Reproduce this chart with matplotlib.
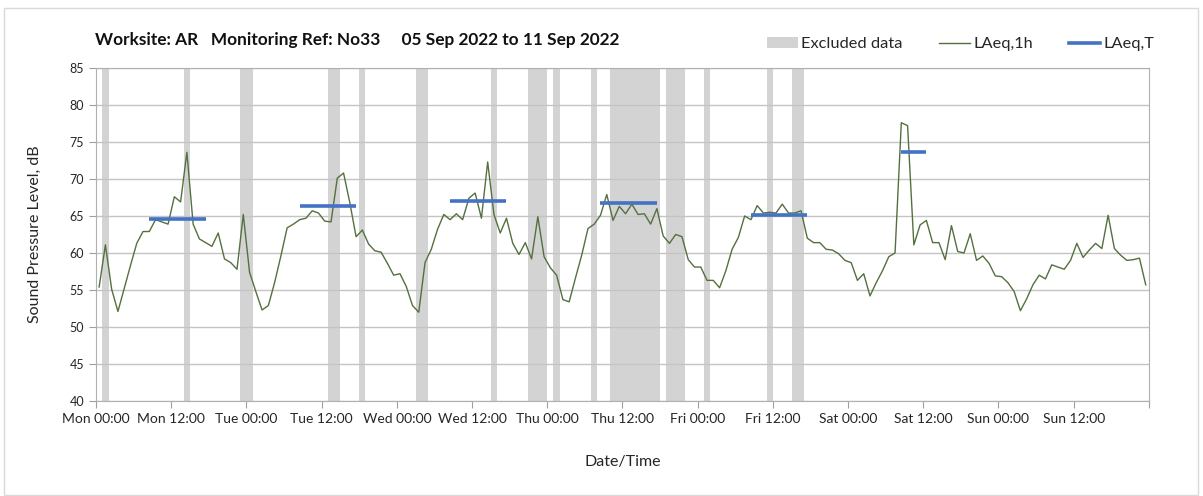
import matplotlib
matplotlib.use('Agg')
import matplotlib.pyplot as plt
from matplotlib.patches import Rectangle, Patch
from matplotlib.lines import Line2D

# Datos: LAeq,1h (una lectura por hora, desde el lunes 00:00)
laeq_1h = [
    55.4, 61.1, 55.1, 52.1, 55.2, 58.3, 61.3, 62.9, 62.9, 64.5, 64.2, 63.9,
    67.6, 66.9, 73.6, 63.9, 61.9, 61.4, 60.9, 62.7, 59.2, 58.7, 57.8, 65.2,
    57.4, 54.8, 52.3, 52.9, 56.0, 59.6, 63.4, 63.9, 64.5, 64.7, 65.7, 65.4,
    64.3, 64.2, 70.1, 70.8, 66.8, 62.2, 63.1, 61.2, 60.3, 60.1, 58.6, 57.0,
    57.2, 55.5, 52.9, 52.0, 58.7, 60.5, 63.2, 65.2, 64.5, 65.3, 64.5, 67.4,
    68.1, 64.7, 72.3, 65.2, 62.7, 64.7, 61.3, 59.8, 61.4, 59.2, 64.9, 59.5,
    58.0, 57.0, 53.7, 53.4, 56.6, 59.7, 63.3, 63.9, 65.1, 67.9, 64.4, 66.3,
    65.3, 66.6, 65.2, 65.3, 63.9, 66.0, 62.3, 61.3, 62.5, 62.2, 59.1, 58.1,
    58.1, 56.3, 56.3, 55.3, 57.6, 60.5, 62.1, 65.0, 64.5, 66.4, 65.4, 65.5,
    65.4, 66.6, 65.4, 65.4, 65.7, 62.0, 61.4, 61.4, 60.5, 60.4, 59.9, 59.0,
    58.7, 56.3, 57.2, 54.2, 56.0, 57.6, 59.5, 60.0, 77.6, 77.2, 61.1, 63.8,
    64.4, 61.4, 61.4, 59.1, 63.7, 60.2, 60.0, 62.6, 59.0, 59.6, 58.6, 56.9,
    56.8, 56.0, 54.8, 52.2, 53.8, 55.7, 57.0, 56.5, 58.4, 58.1, 57.8, 59.0,
    61.3, 59.4, 60.4, 61.3, 60.6, 65.1, 60.6, 59.7, 59.0, 59.1, 59.3, 55.7,
]
horas = [h + 0.5 for h in range(len(laeq_1h))]

# Periodos excluidos (horas desde el lunes 00:00)
excl_inicio = [1, 14, 23, 37, 42, 51, 63, 69, 73, 79, 82, 91, 97, 107, 111]
excl_fin = [2, 15, 25, 39, 43, 53, 64, 72, 74, 80, 90, 94, 98, 108, 113]

# LAeq,T por periodo diurno
laeq_t = [64.6, 66.3, 67.0, 66.8, 65.2, 73.6]
t_inicio = [8.5, 32.5, 56.5, 80.5, 104.5, 128.5]
t_fin = [17.5, 41.5, 65.5, 89.5, 113.5, 132.5]

# Etiquetas del eje x
dias = ['Mon', 'Tue', 'Wed', 'Thu', 'Fri', 'Sat', 'Sun']
etiquetas_x = []
for d in dias:
    etiquetas_x += [d + ' 00:00', d + ' 12:00']
etiquetas_x.append('')

plt.rcParams['font.family'] = ['Lato', 'DejaVu Sans']

fig = plt.figure(figsize=(12.03, 4.96), dpi=100)
ax = fig.add_axes([0.0798, 0.1915, 0.8752, 0.6715])

# Zonas excluidas
for a, b in zip(excl_inicio, excl_fin):
    ax.axvspan(a, b, color='#d3d3d3', lw=0, zorder=1)

# Series
ax.plot(horas, laeq_1h, color='#55703f', lw=1.0, zorder=3)
ax.hlines(laeq_t, t_inicio, t_fin, color='#4472c4', lw=2.6, zorder=4)

# Ejes
ax.set_xlim(0, 168)
ax.set_ylim(40, 85)
ax.set_yticks(range(40, 86, 5))
ax.set_xticks(range(0, 169, 12))
ax.set_xticklabels(etiquetas_x)
ax.set_xticks(range(0, 169, 24), minor=True)
ax.grid(axis='x', which='minor', color='#dcdcdc', lw=1.0, zorder=0)
ax.grid(axis='y', which='major', color='#c4c4c4', lw=1.0, zorder=0)
ax.tick_params(axis='x', which='major', direction='out', length=5,
               color='#a0a0a0', labelsize=10, labelcolor='#262626')
ax.tick_params(axis='x', which='minor', length=0)
ax.tick_params(axis='y', direction='out', length=5, color='#a0a0a0',
               labelsize=9, labelcolor='#262626')
for lado in ['left', 'bottom', 'top', 'right']:
    ax.spines[lado].set_color('#b0b0b0')

ax.set_ylabel('Sound Pressure Level, dB', fontsize=11.5, color='#262626', labelpad=20)
ax.set_xlabel('Date/Time', fontsize=11.5, color='#262626', labelpad=22)

# Titulo
fig.text(95 / 1203, 1 - 40 / 496,
         'Worksite: AR   Monitoring Ref: No33     05 Sep 2022 to 11 Sep 2022',
         fontsize=12.4, fontweight='bold', ha='left', va='center', color='#111111')

# Leyenda
elementos = [Patch(facecolor='#d3d3d3', edgecolor='none', label='Excluded data'),
             Line2D([0], [0], color='#55703f', lw=1.0, label='LAeq,1h'),
             Line2D([0], [0], color='#4472c4', lw=2.6, label='LAeq,T')]
fig.legend(handles=elementos, loc='center right', bbox_to_anchor=(0.972, 1 - 44 / 496),
           ncol=3, frameon=False, fontsize=11.8, handlelength=1.9, handletextpad=0.2,
           columnspacing=2.2, labelcolor='#262626')

# Borde del grafico
fig.patches.append(Rectangle((4 / 1203, 1 / 496), 1194 / 1203, 487 / 496,
                             transform=fig.transFigure, fill=False,
                             edgecolor='#d9d9d9', lw=1.0))

fig.savefig('out.png', dpi=100)
